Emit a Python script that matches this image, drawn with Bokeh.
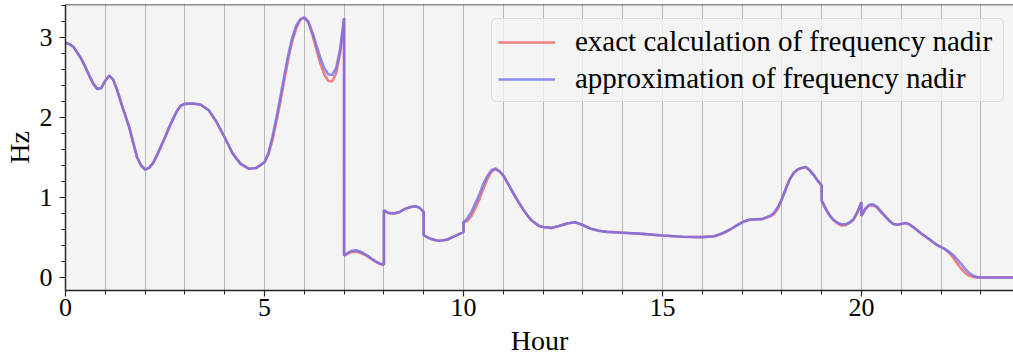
from bokeh.plotting import figure
from bokeh.models import FixedTicker, Span, Legend, LegendItem, Range1d
from bokeh.embed import file_html
from bokeh.resources import INLINE

# ---------------- data ----------------
hours = [
    0.0, 0.1, 0.2, 0.3, 0.4, 0.5, 0.6, 0.7, 0.8, 0.9,
    1.0, 1.1, 1.2, 1.3, 1.4, 1.5, 1.6, 1.7, 1.8, 1.9,
    2.0, 2.1, 2.2, 2.3, 2.4, 2.5, 2.6, 2.7, 2.8, 2.9,
    3.0, 3.2, 3.4, 3.6, 3.8, 4.0, 4.2, 4.4, 4.6, 4.8,
    5.0, 5.1, 5.2, 5.3, 5.4, 5.5, 5.6, 5.7, 5.8, 5.9,
    6.0, 6.1, 6.2, 6.3, 6.4, 6.5, 6.6, 6.7, 6.8, 6.9,
    7.0, 7.0, 7.1, 7.2, 7.3, 7.4, 7.5, 7.6, 7.7, 7.8, 7.9,
    8.0, 8.0, 8.1, 8.2, 8.3, 8.4, 8.5, 8.6, 8.7, 8.8, 8.9,
    9.0, 9.0, 9.1, 9.2, 9.3, 9.4, 9.5, 9.6, 9.7, 9.8, 9.9,
    10.0, 10.0, 10.1, 10.2, 10.3, 10.4, 10.5, 10.6, 10.7, 10.8, 10.9,
    11.0, 11.1, 11.2, 11.3, 11.4, 11.5, 11.6, 11.7, 11.8, 11.9,
    12.0, 12.2, 12.4, 12.6, 12.8, 13.0, 13.2, 13.4, 13.6, 13.8,
    14.0, 14.5, 15.0, 15.5, 16.0, 16.3, 16.5, 16.7, 16.9,
    17.0, 17.2, 17.5, 17.7, 17.8, 17.9,
    18.0, 18.1, 18.2, 18.3, 18.4, 18.5, 18.6, 18.7, 18.8, 18.9,
    19.0, 19.0, 19.1, 19.2, 19.3, 19.4, 19.5, 19.6, 19.7, 19.8, 19.9,
    20.0, 20.0, 20.1, 20.2, 20.3, 20.4, 20.5, 20.6, 20.7, 20.8, 20.9,
    21.0, 21.1, 21.2, 21.3, 21.4, 21.5, 21.6, 21.7, 21.8, 21.9,
    22.0, 22.1, 22.2, 22.3, 22.4, 22.5, 22.6, 22.7, 22.8, 22.9,
    23.0, 23.25, 23.5, 23.75, 24.0,
]

approx_nadir = [
    2.93, 2.92, 2.88, 2.81, 2.73, 2.63, 2.52, 2.42, 2.355, 2.37,
    2.46, 2.525, 2.47, 2.34, 2.18, 2.03, 1.88, 1.69, 1.50, 1.40,
    1.35, 1.37, 1.43, 1.53, 1.64, 1.75, 1.87, 1.98, 2.08, 2.15,
    2.17, 2.175, 2.16, 2.09, 1.94, 1.75, 1.55, 1.42, 1.36, 1.37,
    1.44, 1.56, 1.76, 2.00, 2.26, 2.53, 2.79, 3.00, 3.15, 3.23,
    3.25, 3.20, 3.07, 2.91, 2.75, 2.62, 2.54, 2.53, 2.62, 2.85,
    3.24, 0.275, 0.31, 0.335, 0.34, 0.325, 0.30, 0.27, 0.235, 0.20, 0.175,
    0.16, 0.84, 0.81, 0.80, 0.805, 0.82, 0.85, 0.87, 0.885, 0.89, 0.87,
    0.82, 0.53, 0.50, 0.48, 0.465, 0.46, 0.465, 0.475, 0.50, 0.52, 0.545,
    0.57, 0.69, 0.74, 0.82, 0.93, 1.04, 1.17, 1.27, 1.34, 1.36, 1.33,
    1.275, 1.19, 1.10, 1.01, 0.93, 0.85, 0.78, 0.72, 0.68, 0.645,
    0.63, 0.62, 0.645, 0.675, 0.69, 0.655, 0.61, 0.585, 0.57, 0.565,
    0.56, 0.545, 0.525, 0.51, 0.505, 0.515, 0.55, 0.60, 0.66,
    0.69, 0.725, 0.73, 0.77, 0.81, 0.88,
    0.98, 1.11, 1.23, 1.31, 1.35, 1.37, 1.38, 1.34, 1.28, 1.21,
    1.15, 0.96, 0.86, 0.775, 0.72, 0.685, 0.665, 0.665, 0.69, 0.73, 0.82,
    0.94, 0.77, 0.86, 0.91, 0.915, 0.88, 0.82, 0.765, 0.71, 0.67, 0.66,
    0.67, 0.68, 0.665, 0.63, 0.59, 0.55, 0.515, 0.48, 0.44, 0.405,
    0.38, 0.355, 0.32, 0.285, 0.23, 0.175, 0.11, 0.06, 0.025, 0.005,
    0.0, 0.0, 0.0, 0.0, 0.0,
]

exact_nadir = [
    2.93, 2.92, 2.88, 2.81, 2.73, 2.63, 2.52, 2.42, 2.355, 2.37,
    2.46, 2.525, 2.47, 2.34, 2.18, 2.03, 1.88, 1.69, 1.50, 1.40,
    1.35, 1.37, 1.43, 1.53, 1.64, 1.75, 1.87, 1.98, 2.08, 2.15,
    2.17, 2.175, 2.16, 2.09, 1.94, 1.75, 1.55, 1.42, 1.36, 1.37,
    1.44, 1.54, 1.72, 1.95, 2.20, 2.47, 2.74, 2.96, 3.12, 3.22,
    3.25, 3.19, 3.04, 2.86, 2.68, 2.54, 2.46, 2.45, 2.55, 2.80,
    3.24, 0.275, 0.30, 0.32, 0.325, 0.31, 0.285, 0.26, 0.225, 0.195, 0.17,
    0.16, 0.84, 0.81, 0.80, 0.805, 0.82, 0.85, 0.87, 0.885, 0.89, 0.87,
    0.82, 0.53, 0.50, 0.48, 0.465, 0.46, 0.465, 0.475, 0.50, 0.52, 0.545,
    0.57, 0.69, 0.71, 0.77, 0.87, 0.98, 1.11, 1.23, 1.32, 1.36, 1.33,
    1.275, 1.19, 1.10, 1.01, 0.93, 0.85, 0.78, 0.72, 0.68, 0.645,
    0.63, 0.62, 0.645, 0.675, 0.69, 0.655, 0.61, 0.585, 0.57, 0.565,
    0.56, 0.545, 0.525, 0.51, 0.505, 0.515, 0.55, 0.60, 0.66,
    0.69, 0.725, 0.73, 0.765, 0.79, 0.86,
    0.98, 1.11, 1.23, 1.31, 1.35, 1.37, 1.38, 1.34, 1.28, 1.21,
    1.15, 0.96, 0.86, 0.775, 0.715, 0.675, 0.65, 0.655, 0.68, 0.72, 0.82,
    0.94, 0.77, 0.86, 0.905, 0.90, 0.87, 0.81, 0.76, 0.71, 0.67, 0.66,
    0.67, 0.68, 0.665, 0.63, 0.59, 0.55, 0.515, 0.48, 0.44, 0.405,
    0.38, 0.355, 0.31, 0.25, 0.18, 0.115, 0.06, 0.025, 0.008, 0.0,
    0.0, 0.0, 0.0, 0.0, 0.0,
]

x_major_ticks = [0, 5, 10, 15, 20]
x_minor_ticks = list(range(0, 25))
y_major_ticks = [0, 1, 2, 3]
y_minor_ticks = [round(i * 0.2, 1) for i in range(0, 18)]

label_exact = "exact calculation of frequency nadir"
label_approx = "approximation of frequency nadir"
x_title = "Hour"
y_title = "Hz"

assert len(hours) == len(approx_nadir) == len(exact_nadir)

# ---------------- figure ----------------
FONT = "Liberation Serif"
DARK = "#262626"
GRID = "#b8b8b8"

y_lo, y_hi = 0.0 - 0.05 * 3.25, 3.25 + 0.05 * 3.25

p = figure(width=1013, height=358,
           x_range=Range1d(0, 23.82), y_range=Range1d(y_lo, y_hi),
           output_backend="svg", toolbar_location=None,
           min_border_left=65, min_border_right=0,
           min_border_top=4, min_border_bottom=68)

p.background_fill_color = "#f4f4f4"
p.border_fill_color = "white"
p.outline_line_color = None

r_exact = p.line(hours, exact_nadir, line_color="#f07f7f", line_width=2.6)
r_approx = p.line(hours, approx_nadir, line_color="#6b6bef", line_alpha=0.76,
                  line_width=2.6)

# axes
p.xaxis.ticker = FixedTicker(ticks=x_major_ticks, minor_ticks=x_minor_ticks)
p.yaxis.ticker = FixedTicker(ticks=y_major_ticks, minor_ticks=y_minor_ticks)
for ax in (p.xaxis[0], p.yaxis[0]):
    ax.axis_line_color = DARK
    ax.axis_line_width = 1.5
    ax.major_tick_line_color = DARK
    ax.minor_tick_line_color = DARK
    ax.major_tick_line_width = 1.2
    ax.minor_tick_line_width = 1.0
    ax.major_tick_out = 6
    ax.major_tick_in = 0
    ax.minor_tick_out = 4
    ax.minor_tick_in = 0
    ax.major_label_text_font = FONT
    ax.major_label_text_font_size = "26px"
    ax.major_label_text_color = "black"
    ax.axis_label_text_font = FONT
    ax.axis_label_text_font_size = "28px"
    ax.axis_label_text_font_style = "normal"
    ax.axis_label_text_color = "black"

p.xaxis.axis_label = x_title
p.yaxis.axis_label = y_title
p.xaxis.major_label_standoff = 2
p.xaxis.axis_label_standoff = 6
p.yaxis.major_label_standoff = 7
p.yaxis.axis_label_standoff = 2

# grid: vertical lines at every hour
p.xgrid.grid_line_color = GRID
p.xgrid.grid_line_width = 1
p.xgrid.minor_grid_line_color = GRID
p.xgrid.minor_grid_line_width = 1
p.ygrid.grid_line_color = None

# top spine
p.add_layout(Span(location=y_hi, dimension="width", line_color=DARK,
                  line_width=1.5))

legend = Legend(items=[LegendItem(label=label_exact, renderers=[r_exact]),
                       LegendItem(label=label_approx, renderers=[r_approx])],
                location=(426, 188))
legend.label_text_font = FONT
legend.label_text_font_size = "29px"
legend.label_text_color = "black"
legend.glyph_width = 57
legend.glyph_height = 30
legend.label_height = 30
legend.label_width = 422
legend.label_standoff = 20
legend.padding = 6
legend.spacing = 4
legend.margin = 0
legend.border_line_color = "#cccccc"
legend.border_line_width = 1
legend.background_fill_color = "#f4f4f4"
legend.background_fill_alpha = 0.8
try:
    legend.border_radius = 5
except Exception:
    pass
p.add_layout(legend)

open("out.html", "w").write(file_html(p, INLINE))
